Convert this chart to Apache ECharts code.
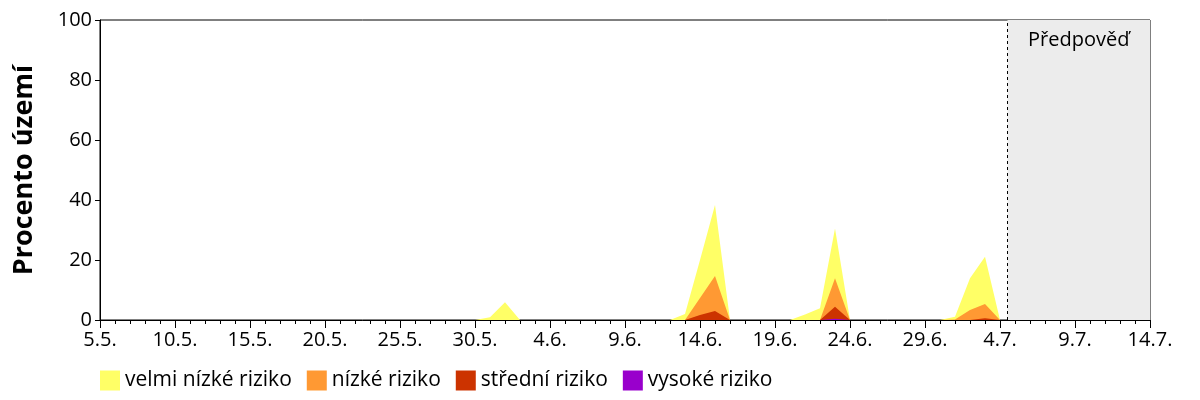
<!DOCTYPE html>
<html>
<head>
<meta charset="utf-8">
<script src="https://cdn.jsdelivr.net/npm/echarts@6/dist/echarts.min.js"></script>
<style>
  html, body { margin: 0; padding: 0; background: #fff; }
  #chart { width: 1200px; height: 400px; }
</style>
</head>
<body>
<div id="chart"></div>
<script>
// popisky osy x (každých 5 dní, od 5.5.)
const tickLabels = ['5.5.', '10.5.', '15.5.', '20.5.', '25.5.', '30.5.', '4.6.', '9.6.', '14.6.', '19.6.', '24.6.', '29.6.', '4.7.', '9.7.', '14.7.'];

// podíl území po dnech (den 0 = 5.5.), jednotlivé vrstvy (ne kumulativně)
const velmiNizke = [
  0, 0, 0, 0, 0, 0, 0, 0, 0, 0,
  0, 0, 0, 0, 0, 0, 0, 0, 0, 0,
  0, 0, 0, 0, 0, 0, 0.9, 5.9, 0, 0,
  0, 0, 0, 0, 0, 0, 0, 0, 0, 2,
  12.7, 23.6, 0, 0, 0, 0, 0, 1.8, 3.9, 16.6,
  0, 0, 0, 0, 0, 0, 0, 0.9, 10.6, 15.8,
  0
];
const nizke = [
  0, 0, 0, 0, 0, 0, 0, 0, 0, 0,
  0, 0, 0, 0, 0, 0, 0, 0, 0, 0,
  0, 0, 0, 0, 0, 0, 0, 0, 0, 0,
  0, 0, 0, 0, 0, 0, 0, 0, 0, 0,
  5.6, 11.7, 0, 0, 0, 0, 0, 0, 0, 9.5,
  0, 0, 0, 0, 0, 0, 0, 0.2, 3.3, 4.7,
  0
];
const stredni = [
  0, 0, 0, 0, 0, 0, 0, 0, 0, 0,
  0, 0, 0, 0, 0, 0, 0, 0, 0, 0,
  0, 0, 0, 0, 0, 0, 0, 0, 0, 0,
  0, 0, 0, 0, 0, 0, 0, 0, 0, 0,
  1.7, 3, 0, 0, 0, 0, 0, 0, 0, 4,
  0, 0, 0, 0, 0, 0, 0, 0, 0, 0.6,
  0
];
const vysoke = [
  0, 0, 0, 0, 0, 0, 0, 0, 0, 0,
  0, 0, 0, 0, 0, 0, 0, 0, 0, 0,
  0, 0, 0, 0, 0, 0, 0, 0, 0, 0,
  0, 0, 0, 0, 0, 0, 0, 0, 0, 0,
  0, 0, 0, 0, 0, 0, 0, 0, 0, 0.4,
  0, 0, 0, 0, 0, 0, 0, 0, 0, 0,
  0
];

const forecastStart = 60.5;
const forecastEnd = 70;

const font = '"Open Sans", sans-serif';

// vrstvy odspodu: vysoké, střední, nízké, velmi nízké
const layers = [
  { name: 'vysoké riziko', data: vysoke, color: '#9900cc' },
  { name: 'střední riziko', data: stredni, color: '#cc3300' },
  { name: 'nízké riziko', data: nizke, color: '#ff9933' },
  { name: 'velmi nízké riziko', data: velmiNizke, color: '#ffff66' }
];

// ruční stack (osa x je hodnotová, kvůli vedlejším značkám)
let running = velmiNizke.map(() => 0);
const series = layers.map(layer => {
  running = running.map((s, i) => s + layer.data[i]);
  return {
    name: layer.name,
    type: 'line',
    data: running.map((v, i) => [i, +v.toFixed(2)]),
    symbol: 'none',
    lineStyle: { width: 0 },
    areaStyle: { color: layer.color, opacity: 1 },
    itemStyle: { color: layer.color },
    silent: true
  };
}).reverse();  // nejvyšší vrstva se kreslí první

series[0].markArea = {
  silent: true,
  itemStyle: { color: '#ececec' },
  label: {
    show: true,
    position: 'insideTop',
    distance: 10,
    color: '#000',
    fontSize: 20,
    fontFamily: font
  },
  data: [[{ name: 'Předpověď', xAxis: forecastStart }, { xAxis: forecastEnd }]]
};
series[0].markLine = {
  silent: true,
  symbol: ['none', 'none'],
  label: { show: false },
  lineStyle: { color: '#000', type: [3, 3], width: 1 },
  data: [{ xAxis: forecastStart }]
};

const chart = echarts.init(document.getElementById('chart'));
chart.setOption({
  animation: false,
  backgroundColor: '#fff',
  grid: {
    left: 100, right: 50, top: 20, bottom: 80,
    show: true, borderColor: '#000', borderWidth: 1, backgroundColor: '#fff'
  },
  legend: {
    data: ['velmi nízké riziko', 'nízké riziko', 'střední riziko', 'vysoké riziko'],
    left: 100, top: 370, padding: 0,
    icon: 'rect', itemWidth: 20, itemHeight: 20, itemGap: 15,
    textStyle: { fontSize: 21, color: '#000', fontFamily: font }
  },
  xAxis: {
    type: 'value',
    min: 0, max: 70, interval: 5,
    axisLine: { lineStyle: { color: '#000' } },
    axisTick: { length: 8, lineStyle: { color: '#000' } },
    minorTick: { show: true, splitNumber: 5, length: 4, lineStyle: { color: '#000' } },
    splitLine: { show: false },
    axisLabel: {
      margin: 10, fontSize: 20, color: '#000', fontFamily: font,
      formatter: v => tickLabels[Math.round(v / 5)] || ''
    }
  },
  yAxis: {
    type: 'value',
    min: 0, max: 100, interval: 20,
    name: 'Procento území',
    nameLocation: 'middle',
    nameGap: 62,
    nameTextStyle: { fontSize: 27, fontWeight: 'bold', color: '#000', fontFamily: font },
    axisLine: { show: true, lineStyle: { color: '#000' } },
    axisTick: { show: true, length: 5, lineStyle: { color: '#000' } },
    splitLine: { show: false },
    axisLabel: { margin: 8, fontSize: 20, color: '#000', fontFamily: font }
  },
  series: series
});
</script>
</body>
</html>
